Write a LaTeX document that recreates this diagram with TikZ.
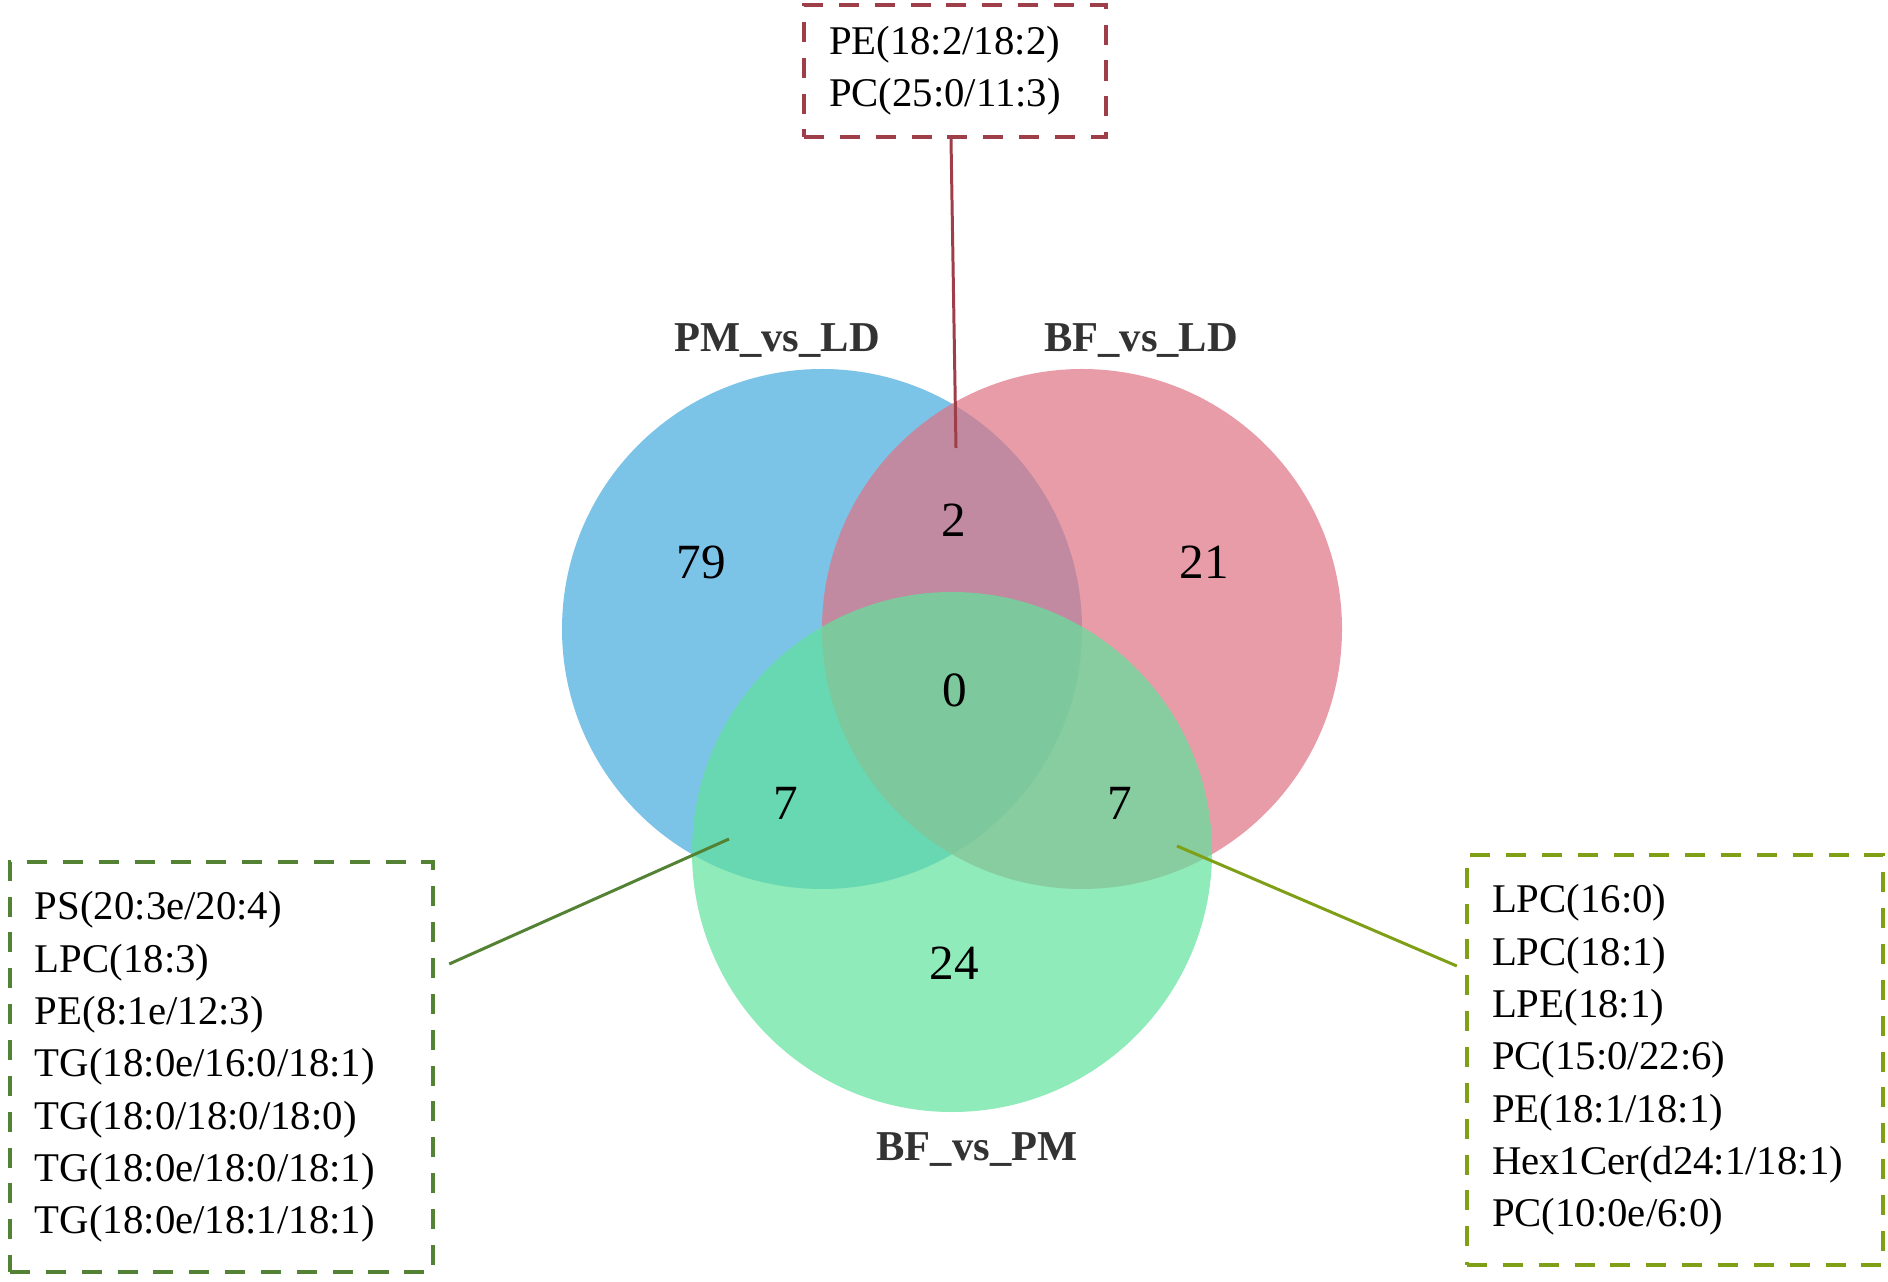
\documentclass[tikz,border=0pt]{standalone}
\usepackage{fontspec}
\setmainfont{Liberation Serif}
\usepackage{xcolor}
\definecolor{pmblue}{HTML}{45A9DE}
\definecolor{ldpink}{HTML}{DE7283}
\definecolor{bfgreen}{HTML}{60E29B}
\definecolor{boxred}{HTML}{9E3E48}
\definecolor{boxgreen}{HTML}{548235}
\definecolor{boxolive}{HTML}{7F9F16}
\definecolor{labelgray}{HTML}{333333}
\tikzset{
  regioncount/.style={font=\fontsize{14}{16}\selectfont},
  setname/.style={anchor=base, text=labelgray, font=\fontsize{12.1}{14}\selectfont\bfseries},
  listbox/.style={draw, line width=1.25pt, dash pattern=on 5.7pt off 4.5pt, align=left,
    inner xsep=0.25cm, font=\fontsize{11.6}{14.9}\selectfont},
  leader/.style={line width=0.85pt}
}

\begin{document}
\begin{tikzpicture}
\useasboundingbox (0,0) rectangle (18.88,12.81);

% Sets
\fill[pmblue, fill opacity=0.7] (8.22,6.52) circle (2.6);
\fill[ldpink, fill opacity=0.7] (10.82,6.52) circle (2.6);
\fill[bfgreen, fill opacity=0.7] (9.52,4.29) circle (2.6);

% Set names
\node[setname] (pmld) at (7.77,9.29) {PM\_vs\_LD};
\node[setname] (bfld) at (11.41,9.29) {BF\_vs\_LD};
\node[setname] (bfpm) at (9.77,1.21) {BF\_vs\_PM};

% Counts
\node[regioncount] (c79) at (7.01,7.19) {79};
\node[regioncount] (c2) at (9.54,7.61) {2};
\node[regioncount] (c21) at (12.04,7.19) {21};
\node[regioncount] (c0) at (9.55,5.91) {0};
\node[regioncount] (c7a) at (7.86,4.78) {7};
\node[regioncount] (c7b) at (11.20,4.78) {7};
\node[regioncount] (c24) at (9.54,3.18) {24};

% Lists
\node[listbox, boxred, text=black, text width=2.52cm, minimum height=1.32cm] (toplist) at (9.55,12.10)
  {PE(18:2/18:2)\\PC(25:0/11:3)};
\node[listbox, boxgreen, text=black, text width=3.73cm, minimum height=4.10cm] (leftlist) at (2.215,2.14)
  {PS(20:3e/20:4)\\LPC(18:3)\\PE(8:1e/12:3)\\TG(18:0e/16:0/18:1)\\TG(18:0/18:0/18:0)\\TG(18:0e/18:0/18:1)\\TG(18:0e/18:1/18:1)};
\node[listbox, boxolive, text=black, text width=3.66cm, minimum height=4.10cm] (rightlist) at (16.75,2.21)
  {LPC(16:0)\\LPC(18:1)\\LPE(18:1)\\PC(15:0/22:6)\\PE(18:1/18:1)\\Hex1Cer(d24:1/18:1)\\PC(10:0e/6:0)};

% Leaders
\coordinate (pin2) at (9.56,8.33);
\coordinate (pin7a) at (7.29,4.42);
\coordinate (pin7b) at (11.77,4.35);
\draw[leader, boxred] ([xshift=-0.04cm]toplist.south) -- (pin2);
\draw[leader, boxgreen] ([xshift=0.14cm, yshift=1.03cm]leftlist.east) -- (pin7a);
\draw[leader, boxolive] ([xshift=-0.08cm, yshift=0.94cm]rightlist.west) -- (pin7b);
\end{tikzpicture}
\end{document}
